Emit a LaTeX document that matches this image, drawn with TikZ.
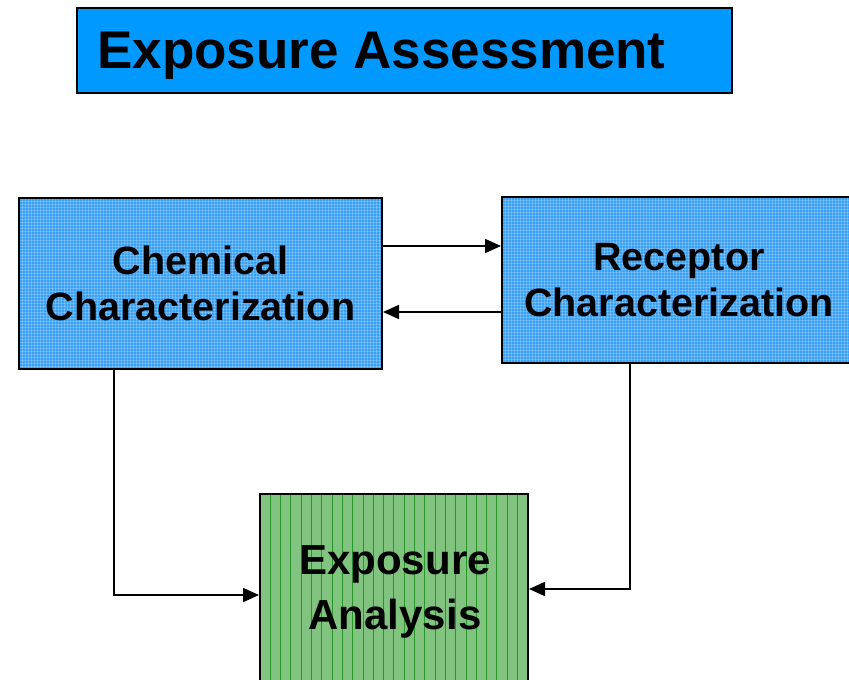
\documentclass[tikz,border=0pt]{standalone}
\usepackage{fontspec}
\setmainfont{Liberation Sans}
\usetikzlibrary{arrows.meta}
\definecolor{titleblue}{RGB}{0,153,255}
\definecolor{boxblue}{RGB}{56,160,245}
\definecolor{boxgreen}{RGB}{128,196,128}
\definecolor{stripegreen}{RGB}{40,150,40}
\tikzset{
  bluebox/.style={draw=black, line width=2pt, fill=boxblue, align=center,
    font=\bfseries\fontsize{39.5}{46}\selectfont, inner sep=0pt,
    path picture={
      \foreach \k in {0,3,...,400}{
        \draw[white, opacity=0.22, line width=0.6pt]
          ([xshift=\k pt]path picture bounding box.north west) -- ++(0,-200pt);
        \draw[white, opacity=0.22, line width=0.6pt]
          ([yshift=-\k pt]path picture bounding box.north west) -- ++(400pt,0);
      }}},
  greenbox/.style={draw=black, line width=2pt, fill=boxgreen, inner sep=0pt,
    path picture={
      \foreach \k in {10.3,20.6,...,270}{
        \draw[stripegreen, line width=0.9pt]
          ([xshift=\k pt]path picture bounding box.north west) -- ++(0,-200pt);
      }}},
  link/.style={line width=1.8pt, -{Triangle[length=16pt,width=14pt]}}
}
\begin{document}
\begin{tikzpicture}[x=1pt,y=-1pt]
\useasboundingbox (0,0) rectangle (849,680);
\fill[white] (0,0) rectangle (849,680);
% heading
\node[draw=black, line width=2pt, fill=titleblue, minimum width=655pt,
  minimum height=85pt, inner sep=0pt, anchor=north west] (title) at (76,7) {};
\node[anchor=base west, font=\bfseries\fontsize{53}{60}\selectfont, inner sep=0pt]
  (titletext) at (97,68) {Exposure Assessment};
% three boxes
\node[bluebox, minimum width=363pt, minimum height=171pt, anchor=north west]
  (chem) at (18,197) {Chemical\\Characterization};
\node[bluebox, minimum width=354pt, minimum height=166pt, anchor=north west]
  (recep) at (501,196) {Receptor\\Characterization};
\node[greenbox, minimum width=268pt, minimum height=188pt, anchor=north west]
  (expo) at (259,493) {};
\node[align=center, inner sep=0pt, font=\bfseries\fontsize{42}{55}\selectfont]
  (expotext) at (395,592) {Exposure\\Analysis};
% connectors
\draw[link] (chem.east |- 0,246) -- (recep.west |- 0,246);
\draw[link] (recep.west |- 0,312) -- (chem.east |- 0,312);
\draw[link] (chem.south -| 114,0) |- (expo.west |- 0,595);
\draw[link] (recep.south -| 630,0) |- (expo.east |- 0,589);
\end{tikzpicture}
\end{document}
